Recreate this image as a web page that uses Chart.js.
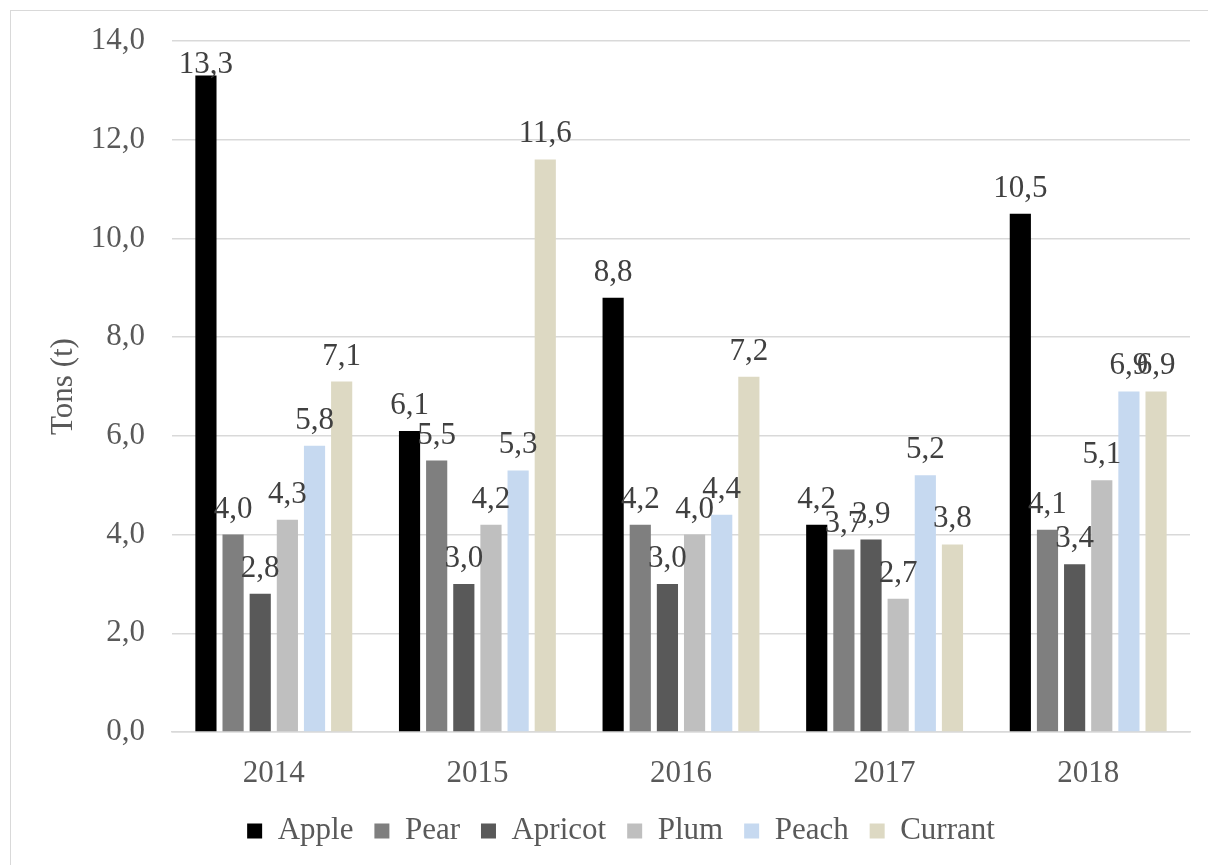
<!DOCTYPE html>
<html>
<head>
<meta charset="utf-8">
<script src="https://cdn.jsdelivr.net/npm/chart.js@4"></script>
<style>
  html, body { margin: 0; padding: 0; background: #fff; }
  #wrap { position: relative; width: 1208px; height: 865px; overflow: hidden; }
  #frame { position: absolute; left: 10px; top: 10px; width: 1220px; height: 880px; border: 1px solid #d9d9d9; box-sizing: border-box; }
  canvas { position: absolute; left: 0; top: 0; }
</style>
</head>
<body>
<div id="wrap">
  <div id="frame"></div>
  <canvas id="chart" width="1208" height="865"></canvas>
</div>
<script>
// Categories and series
const years = ['2014', '2015', '2016', '2017', '2018'];
const apple   = [13.3, 6.1, 8.8, 4.2, 10.5];
const pear    = [4.0, 5.5, 4.2, 3.7, 4.1];
const apricot = [2.8, 3.0, 3.0, 3.9, 3.4];
const plum    = [4.3, 4.2, 4.0, 2.7, 5.1];
const peach   = [5.8, 5.3, 4.4, 5.2, 6.9];
const currant = [7.1, 11.6, 7.2, 3.8, 6.9];
const yTicks = [0, 2, 4, 6, 8, 10, 12, 14];

const FONT = '"Liberation Serif", "Times New Roman", serif';

function fmt(v) {
    return v.toFixed(1).replace('.', ',');
}

// Value labels above each bar
const valueLabels = {
    id: 'valueLabels',
    afterDatasetsDraw(chart) {
        const ctx = chart.ctx;
        ctx.save();
        ctx.font = '31px ' + FONT;
        ctx.fillStyle = '#404040';
        ctx.textAlign = 'center';
        ctx.textBaseline = 'alphabetic';
        chart.data.datasets.forEach((ds, i) => {
            const meta = chart.getDatasetMeta(i);
            meta.data.forEach((bar, j) => {
                let y = bar.y - 17;
                if (y < 73) y = 73;
                ctx.fillText(fmt(ds.data[j]), bar.x, y);
            });
        });
        ctx.restore();
    }
};

const ctx = document.getElementById('chart').getContext('2d');
new Chart(ctx, {
    type: 'bar',
    data: {
        labels: years,
        datasets: [
            { label: 'Apple',   data: apple,   backgroundColor: '#000000' },
            { label: 'Pear',    data: pear,    backgroundColor: '#7f7f7f' },
            { label: 'Apricot', data: apricot, backgroundColor: '#595959' },
            { label: 'Plum',    data: plum,    backgroundColor: '#bfbfbf' },
            { label: 'Peach',   data: peach,   backgroundColor: '#c6d9f0' },
            { label: 'Currant', data: currant, backgroundColor: '#ddd9c3' }
        ]
    },
    options: {
        responsive: false,
        animation: false,
        datasets: {
            bar: { categoryPercentage: 0.8, barPercentage: 0.78 }
        },
        layout: {
            padding: { left: 52, right: 18, top: 41, bottom: 8.5 }
        },
        plugins: {
            legend: {
                position: 'bottom',
                labels: {
                    font: { family: FONT, size: 31 },
                    color: '#595959',
                    boxWidth: 15,
                    boxHeight: 15,
                    padding: 21
                }
            },
            tooltip: { enabled: false }
        },
        scales: {
            x: {
                grid: { display: false, drawTicks: false },
                border: { display: true, color: '#d9d9d9', width: 1.5 },
                ticks: {
                    font: { family: FONT, size: 31 },
                    color: '#595959',
                    padding: 23.5
                },
                afterFit(scale) { scale.height = 62.5; }
            },
            y: {
                min: 0,
                max: 14,
                afterBuildTicks(scale) {
                    scale.ticks = yTicks.map(v => ({ value: v }));
                },
                grid: { color: '#d9d9d9', lineWidth: 1.5, drawTicks: false },
                border: { display: false },
                ticks: {
                    font: { family: FONT, size: 31 },
                    color: '#595959',
                    padding: 27,
                    callback: v => fmt(v)
                },
                title: {
                    display: true,
                    text: 'Tons (t)',
                    font: { family: FONT, size: 31 },
                    color: '#595959',
                    padding: { top: -7, bottom: 0 }
                },
                afterFit(scale) {
                    scale.width = 120;
                    scale.paddingTop = 0;
                    scale.paddingBottom = 0;
                }
            }
        }
    },
    plugins: [valueLabels]
});
</script>
</body>
</html>
